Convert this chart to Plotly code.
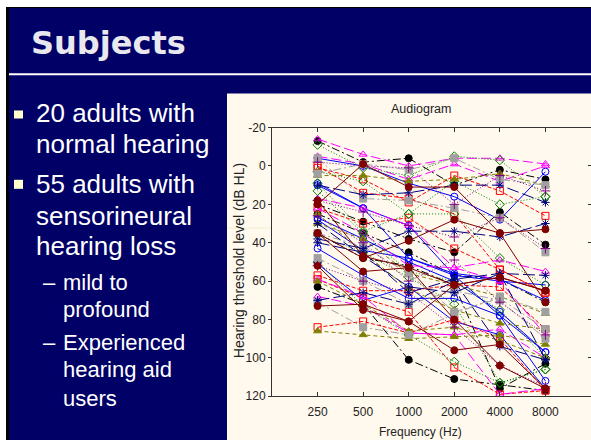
import plotly.graph_objects as go

W, H = 591, 447

# ---------------- data ----------------
freqs = ["250", "500", "1000", "2000", "4000", "8000"]
y_ticks = [-20, 0, 20, 40, 60, 80, 100, 120]

black_lines = [
    [-13, -2, -4, 10, 2, 7],
    [20, 29, 38, 45, 24, 41],
    [63, 72, 101, 111, 114, 117],
    [25, 35, 45, 57, 59, 71],
    [35, 48, 52, 62, 116, 103],
]
blue_lines = [
    [-4, 0, 9, 16, 28, 3],
    [9, 22, 31, 57, 78, 112],
    [28, 44, 48, 57, 60, 62],
    [43, 57, 69, 69, 78, 97],
    [51, 70, 63, 81, 88, 116],
    [27, 38, 50, 60, 76, 97],
    [10, 22, 48, 56, 59, 70],
]
red_lines = [
    [1, 7, 19, 5, 13, 26],
    [22, 30, 27, 43, 54, 66],
    [57, 65, 65, 62, 63, 85],
    [84, 81, 87, 80, 90, 117],
    [59, 69, 76, 105, 119, 117],
    [0, 14, 17, 25, 54, 66],
]
magenta_lines = [
    [-14, -6, 0, -4, -4, -1],
    [-5, -1, 7, -1, 8, 0],
    [17, 22, 31, 53, 49, 55],
    [59, 68, 87, 88, 85, 100],
    [68, 73, 87, 88, 119, 116],
    [22, 35, 52, 53, 60, 88],
]
green_lines = [
    [-11, 1, 5, -5, -3, 16],
    [3, 8, 25, 25, 48, 62],
    [9, 34, 25, 8, 20, 16],
    [36, 45, 58, 72, 113, 106],
    [50, 73, 88, 102, 113, 106],
    [13, 35, 55, 60, 75, 100],
]
olive_lines = [
    [5, 5, 8, 7, 4, 10],
    [30, 38, 56, 62, 68, 77],
    [86, 88, 90, 89, 88, 93],
    [60, 72, 86, 84, 91, 100],
    [25, 45, 64, 75, 82, 85],
]
gray_lines = [
    [-4, 17, 18, 22, 27, 45],
    [4, -1, 2, -4, 7, 10],
    [71, 84, 88, 77, 68, 76],
    [35, 42, 56, 76, 69, 85],
    [48, 60, 72, 65, 70, 90],
]
purple_lines = [
    [18, 24, 31, 37, 27, 43],
    [26, 40, 60, 49, 71, 88],
    [52, 60, 66, 84, 104, 115],
    [-2, 0, 1, 20, 5, 13],
]
navy_lines = [
    [38, 43, 34, 34, 37, 30],
    [10, 15, 14, 10, 10, 19],
    [40, 45, 66, 59, 56, 57],
    [70, 66, 72, 60, 94, 101],
    [30, 47, 63, 66, 56, 101],
]
maroon_lines = [
    [35, 48, 39, 28, 35, 33],
    [20, -1, 11, 11, 35, 71],
    [18, 47, 53, 62, 58, 65],
    [73, 72, 81, 96, 93, 116],
    [52, 75, 81, 62, 58, 65],
    [35, 55, 53, 80, 104, 116],
]

groups = [
    (black_lines, "#000000", "circle", "8px,3px,2px,3px"),
    (blue_lines, "#0000FF", "circle-open", "solid"),
    (red_lines, "#FF0000", "square-open", "4px,2px"),
    (magenta_lines, "#FF00FF", "triangle-up-open", "10px,4px"),
    (green_lines, "#008000", "diamond-open", "1px,2px"),
    (olive_lines, "#808000", "triangle-up", "4px,3px"),
    (gray_lines, "#A0A0A0", "square", "8px,3px,2px,3px"),
    (purple_lines, "#800080", "cross-thin-open", "1px,2px"),
    (navy_lines, "#000080", "asterisk-open", "12px,4px"),
    (maroon_lines, "#800000", "circle", "solid"),
]

# the photographed page shows the figure in rows 8..439 of the picture
TOP, USABLE = 8.0, 431.0


def px(x):
    return x / W


def py(y):
    v = 1 - (y - TOP) / USABLE
    return min(1.0, max(0.0, v))


fig = go.Figure()
for lines, color, symbol, dash in groups:
    for vals in lines:
        fig.add_trace(go.Scatter(
            x=freqs, y=vals, mode="lines+markers",
            line=dict(color=color, width=1, dash=dash),
            marker=dict(symbol=symbol, size=7, color=color,
                        line=dict(color=color, width=1)),
            showlegend=False, hoverinfo="skip",
        ))

# dummy trace to bind the right-hand tick axis
fig.add_trace(go.Scatter(x=[], y=[], yaxis="y2", showlegend=False))

navy = "#000066"
shapes = [
    dict(type="rect", xref="paper", yref="paper", x0=px(6), x1=1, y0=0, y1=1,
         fillcolor="#000000", line=dict(width=0), layer="below"),
    dict(type="rect", xref="paper", yref="paper", x0=px(9), x1=1, y0=0, y1=py(9),
         fillcolor=navy, line=dict(width=0), layer="below"),
    dict(type="rect", xref="paper", yref="paper", x0=px(9), x1=1, y0=py(76), y1=py(74),
         fillcolor="#FFFFFF", line=dict(width=0), layer="below"),
    dict(type="rect", xref="paper", yref="paper", x0=px(227), x1=1, y0=py(443), y1=py(94),
         fillcolor="#FFF9EE", line=dict(width=0), layer="below"),
    dict(type="line", xref="paper", yref="paper", x0=px(227), x1=px(272), y0=py(228), y1=py(228),
         line=dict(color="#F2ECD2", width=1), layer="below"),
    dict(type="rect", xref="paper", yref="paper", x0=px(14), x1=px(23), y0=py(119), y1=py(111),
         fillcolor="#FFFFCC", line=dict(width=0), layer="below"),
    dict(type="rect", xref="paper", yref="paper", x0=px(14), x1=px(23), y0=py(189), y1=py(180),
         fillcolor="#FFFFCC", line=dict(width=0), layer="below"),
]

txt_font = "Liberation Sans, Arial, sans-serif"
annotations = [
    dict(text="<b>Subjects</b>", x=px(29), y=py(44), xanchor="left", yanchor="middle",
         font=dict(family="DejaVu Sans", size=32, color="#E8E8EE")),
]
main_lines = [("20 adults with", 123), ("normal hearing", 153), ("55 adults with", 193),
              ("sensorineural", 225), ("hearing loss", 255)]
for t, base in main_lines:
    annotations.append(dict(text=t, x=px(34), y=py(base - 9.1), xanchor="left", yanchor="middle",
                            font=dict(family=txt_font, size=26, color="#FFFFFF")))
sub_lines = [("mild to", 290, True), ("profound", 317, False), ("Experienced", 350, True),
             ("hearing aid", 377, False), ("users", 405, False)]
for t, base, dash in sub_lines:
    annotations.append(dict(text=t, x=px(61), y=py(base - 7.7), xanchor="left", yanchor="middle",
                            font=dict(family=txt_font, size=22, color="#FFFFFF")))
    if dash:
        annotations.append(dict(text="–", x=px(41), y=py(base - 7.7), xanchor="left", yanchor="middle",
                                font=dict(family=txt_font, size=22, color="#FFFFFF")))

annotations += [
    dict(text="Audiogram", x=px(421), y=py(110), xanchor="center", yanchor="middle",
         font=dict(family=txt_font, size=12.5, color="#222222")),
    dict(text="Frequency (Hz)", x=px(420.5), y=py(431), xanchor="center", yanchor="middle",
         font=dict(family=txt_font, size=12, color="#222222")),
    dict(text="Hearing threshold level (dB HL)", x=px(239), y=py(260), xanchor="center",
         yanchor="middle", textangle=-90,
         font=dict(family=txt_font, size=14, color="#222222")),
]
for a in annotations:
    a.update(xref="paper", yref="paper", showarrow=False)

tickfont = dict(family=txt_font, size=12, color="#222222")
fig.update_layout(
    width=W, height=H, autosize=False,
    margin=dict(l=0, r=0, t=0, b=0, pad=0),
    paper_bgcolor="#FFFFFF", plot_bgcolor="#FFFFFF",
    showlegend=False,
    shapes=shapes, annotations=annotations,
    xaxis=dict(type="category", categoryorder="array", categoryarray=freqs,
               range=[-1.0, 6.0], domain=[px(272), 1.0],
               showline=True, linecolor="#333333", linewidth=1, mirror="ticks",
               ticks="inside", ticklen=4, tickcolor="#333333", ticklabelstandoff=4,
               showgrid=False, zeroline=False, tickfont=tickfont),
    yaxis=dict(range=[120, -20], domain=[py(395.5), py(128)],
               tickvals=y_ticks, ticktext=[str(v) for v in y_ticks],
               showline=True, linecolor="#333333", linewidth=1,
               ticks="outside", ticklen=3, tickcolor="#333333",
               showgrid=False, zeroline=False, tickfont=tickfont),
    yaxis2=dict(range=[120, -20], overlaying="y", side="right",
                tickvals=y_ticks, showticklabels=False,
                ticks="inside", ticklen=3, tickcolor="#333333",
                showline=False, showgrid=False, zeroline=False),
)

fig.write_html("out.html")
